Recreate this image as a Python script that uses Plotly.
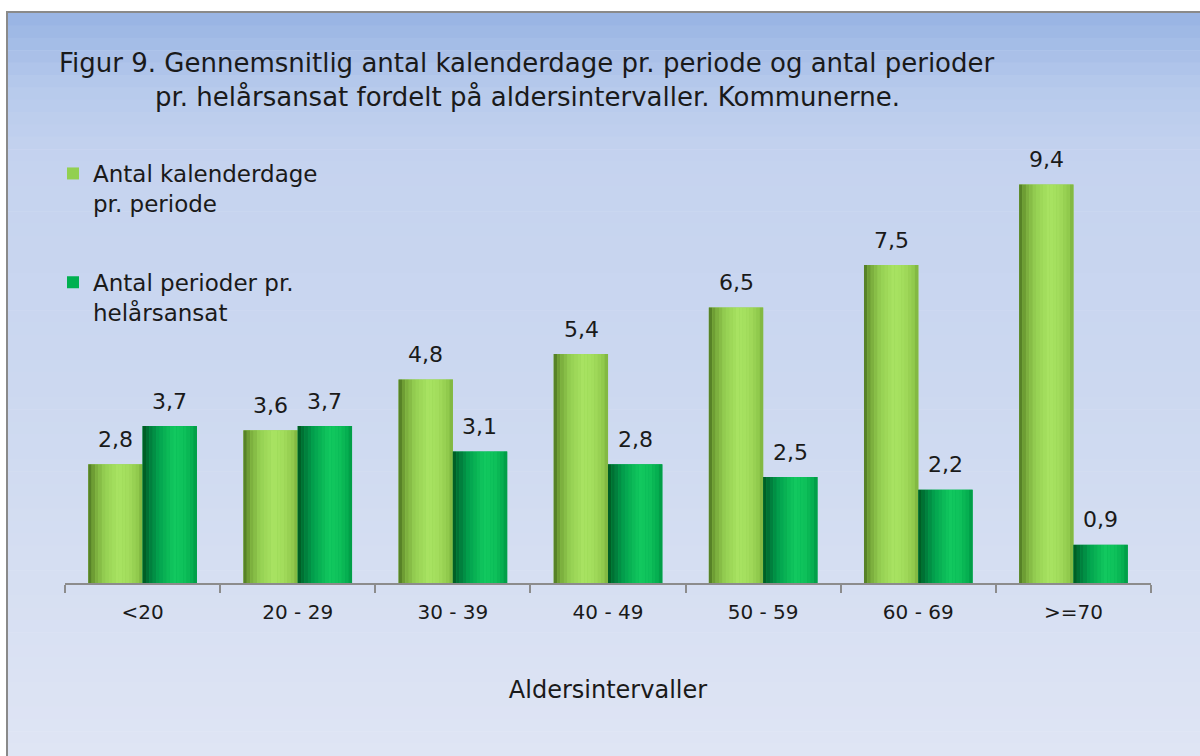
import plotly.graph_objects as go

# ---------------- data ----------------
categories = ["<20", "20 - 29", "30 - 39", "40 - 49", "50 - 59", "60 - 69", ">=70"]
kalenderdage = [2.8, 3.6, 4.8, 5.4, 6.5, 7.5, 9.4]
perioder = [3.7, 3.7, 3.1, 2.8, 2.5, 2.2, 0.9]
series_names = ["Antal kalenderdage<br>pr. periode", "Antal perioder pr.<br>helårsansat"]
title_lines = ["Figur 9. Gennemsnitlig antal kalenderdage pr. periode og antal perioder",
               "pr. helårsansat fordelt på aldersintervaller. Kommunerne."]
x_title = "Aldersintervaller"

# ---------------- layout geometry ----------------
W, H = 1200, 756
L, R, T, B = 65, 49, 159, 173
PW, PH = W - L - R, H - T - B
FONT = "DejaVu Sans"
TXT = "#1a1a1a"


def px2x(px):
    return (px - L) / PW


def py2y(py):
    return (H - B - py) / PH


def hex2rgb(h):
    h = h.lstrip("#")
    return tuple(int(h[i:i + 2], 16) for i in (0, 2, 4))


def interp(stops, t):
    for (t0, c0), (t1, c1) in zip(stops[:-1], stops[1:]):
        if t0 <= t <= t1:
            f = 0 if t1 == t0 else (t - t0) / (t1 - t0)
            a, b = hex2rgb(c0), hex2rgb(c1)
            return "rgb(%d,%d,%d)" % tuple(round(a[i] + (b[i] - a[i]) * f) for i in range(3))
    return stops[-1][1]


fig = go.Figure()

BAR_W = 0.35
offsets = [-BAR_W, 0.0]
base_colors = ["#92d050", "#00b050"]
shade_stops = [
    [(0.0, "#4c7420"), (0.12, "#77a83a"), (0.3, "#95cf52"), (0.55, "#a9e463"), (0.75, "#a2dc5c"), (0.92, "#8fc84c"), (1.0, "#7bb03e")],
    [(0.0, "#00561f"), (0.12, "#00783a"), (0.3, "#03a24e"), (0.58, "#12c95f"), (0.78, "#0ec05a"), (0.92, "#05ad50"), (1.0, "#009643")],
]
values = [kalenderdage, perioder]
N = 16

for s in range(2):
    fig.add_trace(go.Bar(
        x=categories, y=values[s], name=series_names[s],
        marker=dict(color=base_colors[s], line=dict(width=0)),
        offset=offsets[s], width=BAR_W, legendgroup="g%d" % s,
        hoverinfo="x+y",
    ))
    for i in range(N):
        t = (i + 0.5) / N
        fig.add_trace(go.Bar(
            x=categories, y=values[s], showlegend=False,
            marker=dict(color=interp(shade_stops[s], t), line=dict(width=0)),
            offset=offsets[s] + i * BAR_W / N, width=BAR_W / N * 1.02,
            legendgroup="g%d" % s, hoverinfo="skip",
        ))

# data labels
annotations = []
for s in range(2):
    for c, v in zip(categories, values[s]):
        annotations.append(dict(
            x=c, y=v, xref="x", yref="y", text=("%.1f" % v).replace(".", ","),
            showarrow=False, xshift=(-27 if s == 0 else 27), yshift=25,
            font=dict(family=FONT, size=22, color=TXT), yanchor="middle",
        ))

# title (two centered lines)
for k, (line, py) in enumerate(zip(title_lines, [63, 97])):
    annotations.append(dict(
        x=px2x(527), y=py2y(py), xref="paper", yref="paper", text=line,
        showarrow=False, xanchor="center", yanchor="middle",
        font=dict(family=FONT, size=26, color=TXT),
    ))

# background gradient bands + frame
shapes = []
bg_stops = [(0.0, "#97b3e3"), (0.1, "#b7caec"), (0.2, "#c5d3ef"), (0.5, "#ccd8f0"), (1.0, "#dfe5f4")]
top, bottom = 13, 756
nb = 60
for i in range(nb):
    y0 = top + (bottom - top) * i / nb
    y1 = top + (bottom - top) * (i + 1) / nb + 0.6
    col = interp(bg_stops, (i + 0.5) / nb)
    shapes.append(dict(type="rect", xref="paper", yref="paper",
                       x0=px2x(8), x1=px2x(1200), y0=py2y(y1), y1=py2y(y0),
                       fillcolor=col, line=dict(width=0), layer="below"))
shapes.append(dict(type="rect", xref="paper", yref="paper",
                   x0=px2x(7), x1=px2x(1210), y0=py2y(775), y1=py2y(12),
                   fillcolor="rgba(0,0,0,0)", line=dict(color="#8a8a8a", width=2), layer="below"))

fig.update_layout(
    width=W, height=H,
    margin=dict(l=L, r=R, t=T, b=B, pad=0),
    paper_bgcolor="white", plot_bgcolor="rgba(0,0,0,0)",
    barmode="overlay",
    font=dict(family=FONT, color=TXT),
    showlegend=True,
    legend=dict(
        x=px2x(53), y=py2y(152), xanchor="left", yanchor="top",
        xref="paper", yref="paper", valign="top",
        bgcolor="rgba(0,0,0,0)", font=dict(family=FONT, size=23, color=TXT),
        traceorder="grouped", tracegroupgap=46, itemsizing="constant",
    ),
    xaxis=dict(
        type="category", categoryorder="array", categoryarray=categories,
        showline=True, linecolor="#8c8c8c", linewidth=2,
        ticks="outside", tickson="boundaries", ticklen=8, tickcolor="#8c8c8c", tickwidth=2,
        tickfont=dict(family=FONT, size=20, color=TXT), ticklabelstandoff=10,
        showgrid=False, zeroline=False, range=[-0.5, 6.5],
        title=dict(text=x_title, font=dict(family=FONT, size=24, color=TXT), standoff=58),
    ),
    yaxis=dict(visible=False, range=[0, 10], showgrid=False, zeroline=False),
    annotations=annotations,
    shapes=shapes,
)

fig.write_html("out.html", post_script="document.body.style.margin='0';",
               config={"displayModeBar": False})
